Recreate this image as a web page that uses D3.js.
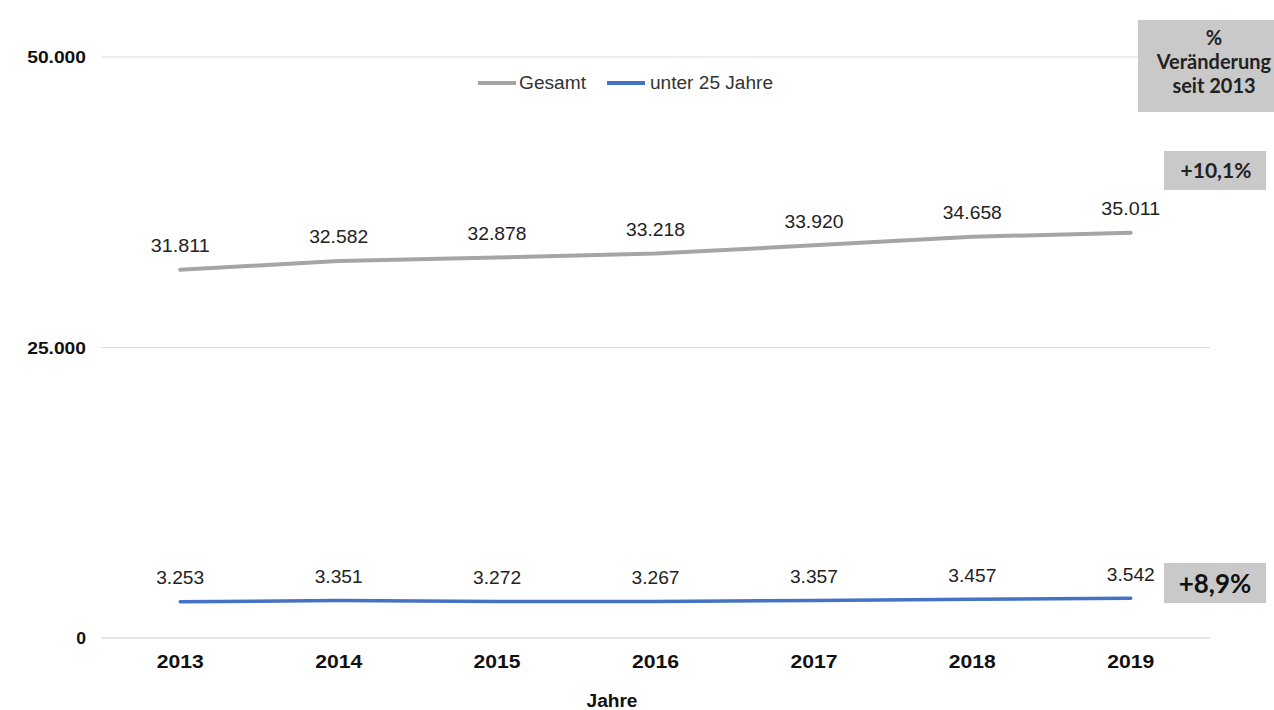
<!DOCTYPE html>
<html><head><meta charset="utf-8">
<script src="https://cdn.jsdelivr.net/npm/d3@7"></script>
<style>body{margin:0;background:#fff}svg{display:block}</style>
</head><body><svg id="c" width="1274" height="710"></svg>
<script>
const years = ["2013","2014","2015","2016","2017","2018","2019"];
const gesamt = [31811,32582,32878,33218,33920,34658,35011];
const unter25 = [3253,3351,3272,3267,3357,3457,3542];
const yTicks = [0,25000,50000];
const seriesNames = ["Gesamt","unter 25 Jahre"];
const changeLabels = ["+10,1%","+8,9%"];
const boxTitle = ["%","Veränderung","seit 2013"];

const svg = d3.select("#c");
const x = d3.scaleBand().domain(years).range([101,1210]);
const y = d3.scaleLinear().domain([0,50000]).range([638,57]);
const fmt = v => d3.format(",")(v).replace(/,/g,".");
const cx = d => x(d)+x.bandwidth()/2;
const af = "Liberation Sans, Arial, sans-serif";

// grid
svg.append("g").selectAll("line").data(yTicks).join("line")
  .attr("x1",101).attr("x2",1210).attr("y1",d=>y(d)).attr("y2",d=>y(d))
  .attr("stroke",d=>d===0?"#d0d0d0":"#dedede").attr("stroke-width",1.2);
svg.append("g").selectAll("text").data(yTicks).join("text")
  .attr("x",86).attr("y",d=>y(d)+6).attr("text-anchor","end")
  .attr("font-family",af).attr("font-weight","bold").attr("font-size",17)
  .attr("fill","#111").text(d=>fmt(d)).attr("textLength",d=>fmt(d).length*9.8).attr("lengthAdjust","spacingAndGlyphs");
svg.append("g").selectAll("text").data(years).join("text")
  .attr("x",d=>cx(d)).attr("y",668).attr("text-anchor","middle")
  .attr("font-family",af).attr("font-weight","bold").attr("font-size",18)
  .attr("fill","#111").text(d=>d).attr("textLength",47).attr("lengthAdjust","spacingAndGlyphs");
svg.append("text").attr("x",612).attr("y",707).attr("text-anchor","middle")
  .attr("font-family",af).attr("font-weight","bold").attr("font-size",18)
  .attr("fill","#111").text("Jahre").attr("textLength",51).attr("lengthAdjust","spacingAndGlyphs");

const series = [{vals:gesamt,color:"#a5a5a5",w:4},{vals:unter25,color:"#4472c4",w:3.5}];
const line = d3.line().x((d,i)=>cx(years[i])).y(d=>y(d)+1.5);
series.forEach(s=>{
  svg.append("path").attr("d",line(s.vals)).attr("fill","none")
    .attr("stroke",s.color).attr("stroke-width",s.w).attr("stroke-linecap","round");
  svg.append("g").selectAll("text").data(s.vals).join("text")
    .attr("x",(d,i)=>cx(years[i])).attr("y",d=>y(d)-16).attr("text-anchor","middle")
    .attr("font-family",af).attr("font-size",19)
    .attr("fill","#222").text(d=>fmt(d))
    .attr("textLength",d=>fmt(d).length===6?59:48).attr("lengthAdjust","spacingAndGlyphs");
});

// legend
const leg = [{x:478,c:"#a5a5a5",t:519,w:67},{x:607,c:"#4472c4",t:650,w:123}];
leg.forEach((l,i)=>{
  svg.append("line").attr("x1",l.x).attr("x2",l.x+38).attr("y1",83).attr("y2",83)
    .attr("stroke",l.c).attr("stroke-width",4);
  svg.append("text").attr("x",l.t).attr("y",89).attr("font-family",af)
    .attr("font-size",18).attr("fill","#333").text(seriesNames[i])
    .attr("textLength",l.w).attr("lengthAdjust","spacingAndGlyphs");
});

// boxes
const bf = "Lato, 'Open Sans', sans-serif";
svg.append("rect").attr("x",1138).attr("y",20).attr("width",136).attr("height",92).attr("fill","#c9c9c9");
svg.append("g").selectAll("text").data(boxTitle).join("text")
  .attr("x",1214).attr("y",(d,i)=>45+i*24).attr("text-anchor","middle")
  .attr("font-family",bf).attr("font-weight","bold").attr("font-size",20).attr("fill","#222").text(d=>d);
svg.append("rect").attr("x",1164).attr("y",151).attr("width",102).attr("height",39).attr("fill","#c9c9c9");
svg.append("text").attr("x",1216).attr("y",178).attr("text-anchor","middle")
  .attr("font-family",bf).attr("font-weight","bold").attr("font-size",21).attr("fill","#222").text(changeLabels[0]);
svg.append("rect").attr("x",1164).attr("y",563).attr("width",102).attr("height",40).attr("fill","#c9c9c9");
svg.append("text").attr("x",1215).attr("y",593).attr("text-anchor","middle")
  .attr("font-family",bf).attr("font-weight","bold").attr("font-size",26).attr("fill","#111").text(changeLabels[1]);
</script></body></html>
